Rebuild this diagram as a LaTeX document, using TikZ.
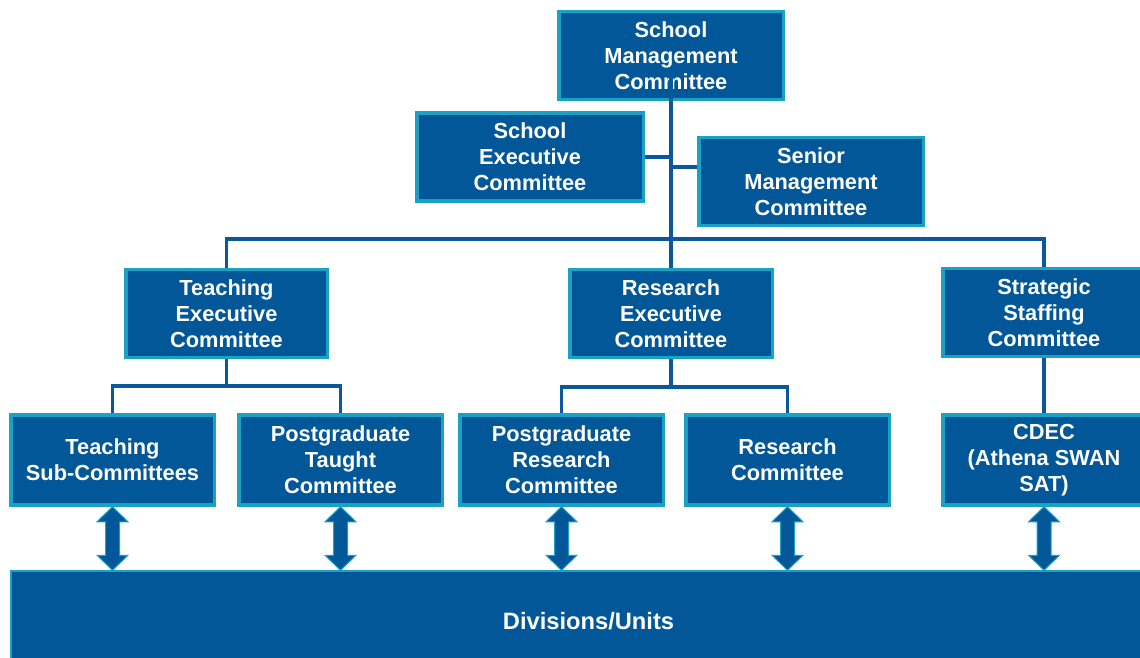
\documentclass[tikz,border=0pt]{standalone}
\usepackage{fontspec}
\setmainfont{Liberation Sans}
\usetikzlibrary{calc}
\definecolor{boxfill}{RGB}{2,87,152}
\definecolor{boxedge}{RGB}{27,161,198}
\definecolor{linecol}{RGB}{10,88,156}
\newcommand\dblarr[2]{%
  \path[arrowshape] let \p1=(#1.south), \p2=(#2.north) in
    (\x1,\y1) -- (\x1+15.5pt,\y1-15pt) -- (\x1+7pt,\y1-15pt) -- (\x1+7pt,\y2+15pt)
    -- (\x1+15.5pt,\y2+15pt) -- (\x1,\y2) -- (\x1-15.5pt,\y2+15pt) -- (\x1-7pt,\y2+15pt)
    -- (\x1-7pt,\y1-15pt) -- (\x1-15.5pt,\y1-15pt) -- cycle;}
\begin{document}
\begin{tikzpicture}[x=1pt,y=1pt,
  box/.style={draw=boxedge, fill=boxfill, line width=3.5pt, text=white,
    font=\fontsize{21.8}{26}\selectfont\bfseries, align=center, inner sep=0pt,
    minimum width=#1-3.5pt, minimum height=88pt},
  box/.default=203,
  conn/.style={draw=linecol, line width=3.5pt},
  arrowshape/.style={fill=boxfill, draw=boxedge, line width=1pt, line join=miter}]
\useasboundingbox (0,0) rectangle (1140,-658);
\clip (0,0) rectangle (1140,-658);
% band
\node[box, line width=1.5pt, minimum width=1155pt, minimum height=100pt,
  font=\fontsize{23.7}{28}\selectfont\bfseries] (band) at (588.5,-621) {Divisions/Units};
% top level
\node[box=228] (smc) at (671,-55.5) {School\\Management\\Committee};
\node[box=230] (sec) at (530,-157) {School\\Executive\\Committee};
\node[box=228] (senmc) at (811,-181.5) {Senior\\Management\\Committee};
% second row
\node[box=205] (tec) at (226.5,-313.5) {Teaching\\Executive\\Committee};
\node[box=206] (rec) at (671,-313.5) {Research\\Executive\\Committee};
\node[box=206] (ssc) at (1044,-312.5) {Strategic\\Staffing\\Committee};
% third row
\node[box=207, minimum height=90pt] (tsc) at (112.5,-460) {Teaching\\Sub-Committees};
\node[box=207, minimum height=90pt] (pgt) at (340.5,-460) {Postgraduate\\Taught\\Committee};
\node[box=207, minimum height=90pt] (pgr) at (561.5,-460) {Postgraduate\\Research\\Committee};
\node[box=207, minimum height=90pt] (rc) at (787.5,-460) {Research\\Committee};
\node[box=206, minimum height=90pt] (cdec) at (1044,-460) {CDEC\\(Athena SWAN\\SAT)};
% junction coordinates
\coordinate (j1) at (671,-157);
\coordinate (j2) at (671,-167);
\coordinate (hbar) at (0,-239);
\coordinate (tbar) at (0,-386);
\coordinate (rbar) at (0,-387);
% connectors
\draw[conn] (smc.center) ++(0,-21) -- (rec.north);
\draw[conn] (sec.east) -- (j1);
\draw[conn] (j2) -- (j2 -| senmc.west);
\draw[conn] (tec.north) -- (tec.north |- hbar) -- (ssc.north |- hbar) -- (ssc.north);
\draw[conn] (tec.south) -- (tec.south |- tbar);
\draw[conn] (tsc.north) -- (tsc.north |- tbar) -- (pgt.north |- tbar) -- (pgt.north);
\draw[conn] (rec.south) -- (rec.south |- rbar);
\draw[conn] (pgr.north) -- (pgr.north |- rbar) -- (rc.north |- rbar) -- (rc.north);
\draw[conn] (ssc.south) -- (cdec.north);
% double arrows
\dblarr{tsc}{band}
\dblarr{pgt}{band}
\dblarr{pgr}{band}
\dblarr{rc}{band}
\dblarr{cdec}{band}
\end{tikzpicture}
\end{document}
